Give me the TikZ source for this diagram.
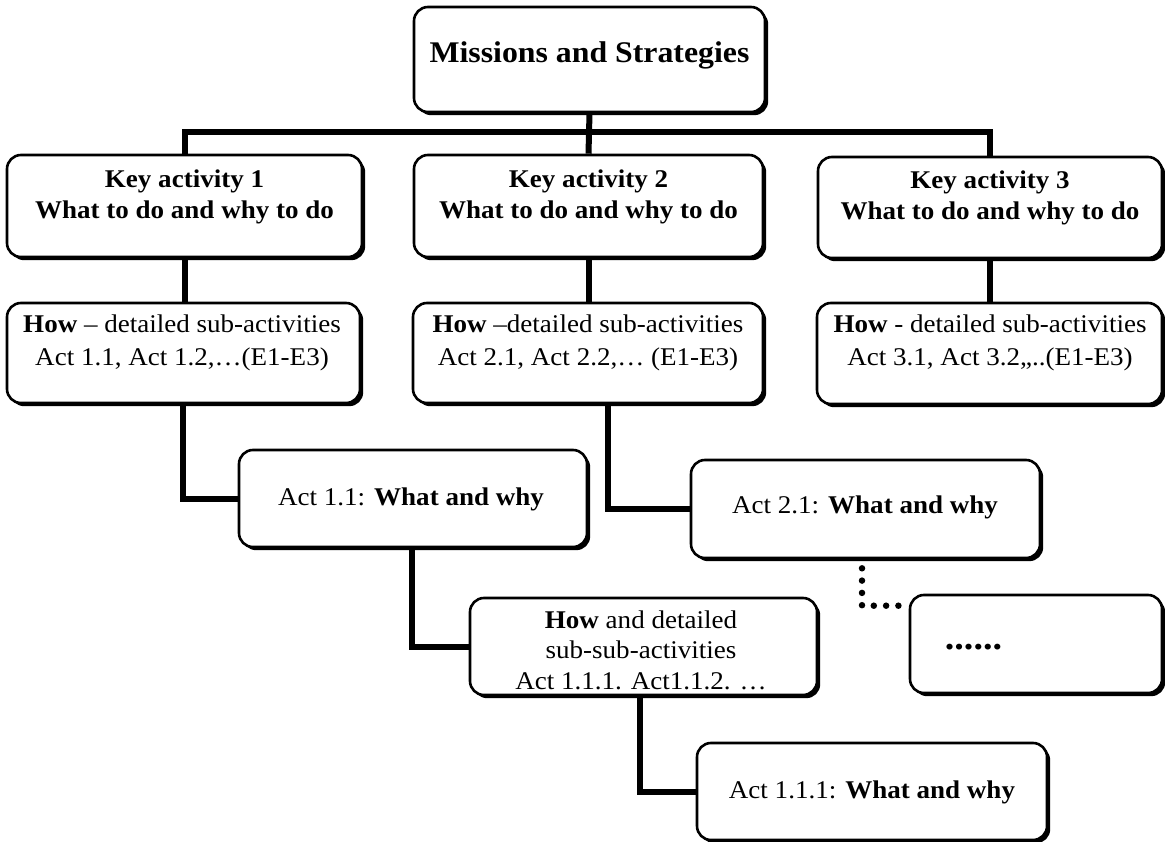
\documentclass[tikz,border=0pt]{standalone}
\usepackage{fontspec}
\setmainfont{Liberation Serif}[FakeStretch=1.06]
\usetikzlibrary{shadows,calc}

\tikzset{
  box/.style={draw, line width=2.6pt, rounded corners=14pt, fill=white, inner sep=0pt,
    drop shadow={shadow xshift=3.2pt, shadow yshift=-3.2pt, opacity=1, fill=black}},
  lbl/.style={align=center, inner sep=0pt, font=\fontsize{25.5}{31.5}\selectfont},
  toplbl/.style={inner sep=0pt, font=\fontsize{30}{36}\selectfont\bfseries},
  conn/.style={line width=6pt},
  dotconn/.style={line width=6.5pt, line cap=round, dash pattern=on 0pt off 12.3pt},
}

\begin{document}
\begin{tikzpicture}[x=1pt, y=-1pt]
\useasboundingbox (0,0) rectangle (1165,842);

% top level
\node[box, minimum width=351, minimum height=105] (M) at (589.5,59.5) {};
\node[toplbl] (Mt) at (589.5,55) {Missions and Strategies};

% key activities
\node[box, minimum width=355, minimum height=102] (K1) at (184.5,206) {};
\node[box, minimum width=349, minimum height=102] (K2) at (588.5,206) {};
\node[box, minimum width=344, minimum height=101] (K3) at (990,207.5) {};
\node[lbl, font=\fontsize{25.5}{31}\selectfont\bfseries] (K1t) at (184.5,197) {Key activity 1\\What to do and why to do};
\node[lbl, font=\fontsize{25.5}{31}\selectfont\bfseries] (K2t) at (588.5,197) {Key activity 2\\What to do and why to do};
\node[lbl, font=\fontsize{25.5}{31}\selectfont\bfseries] (K3t) at (990,198) {Key activity 3\\What to do and why to do};

% sub-activities
\node[box, minimum width=353, minimum height=100] (H1) at (183.5,353) {};
\node[box, minimum width=350, minimum height=100] (H2) at (588,353) {};
\node[box, minimum width=345, minimum height=101] (H3) at (989.5,353.5) {};
\node[lbl, font=\fontsize{25.5}{33}\selectfont] (H1t) at (182,343) {\textbf{How} – detailed sub-activities\\Act 1.1, Act 1.2,…(E1-E3)};
\node[lbl, font=\fontsize{25.5}{33}\selectfont] (H2t) at (588,343) {\textbf{How} –detailed sub-activities\\Act 2.1, Act 2.2,… (E1-E3)};
\node[lbl, font=\fontsize{25.5}{33}\selectfont] (H3t) at (990,343) {\textbf{How} - detailed sub-activities\\Act 3.1, Act 3.2,,..(E1-E3)};

% level three
\node[box, minimum width=348, minimum height=97] (A11) at (413,498.5) {};
\node[lbl] (A11t) at (411,499) {Act 1.1: \textbf{What and why}};
\node[box, minimum width=349, minimum height=98] (A21) at (865.5,509) {};
\node[lbl] (A21t) at (865,507) {Act 2.1: \textbf{What and why}};

\node[box, minimum width=347, minimum height=97] (HA) at (643.5,646.5) {};
\node[lbl, font=\fontsize{25.5}{30.5}\selectfont] (HAt) at (641,650) {\textbf{How} and detailed\\sub-sub-activities\\Act 1.1.1. Act1.1.2. …};
\node[box, minimum width=252, minimum height=98] (D) at (1036,644) {};
\node[lbl, font=\fontsize{36}{40}\selectfont\bfseries] (Dt) at (973.5,647) {......};

\node[box, minimum width=350, minimum height=97] (A111) at (872,791.5) {};
\node[lbl] (A111t) at (872,792) {Act 1.1.1: \textbf{What and why}};

% connectors
\coordinate (bar) at (588,132);
\draw[conn] (K1.north) |- (bar) -| (K3.north);
\draw[conn] (M.south) -- (K2.north);
\draw[conn] (K1.south) -- (K1.south |- H1.north);
\draw[conn] (K2.south) -- (K2.south |- H2.north);
\draw[conn] (K3.south) -- (K3.south |- H3.north);
\draw[conn] ([xshift=-0.5pt]H1.south) |- (A11.west);
\draw[conn] ([xshift=20pt]H2.south) |- (A21.west);
\draw[conn] ([xshift=-1pt]A11.south) |- (HA.west);
\draw[conn] ([xshift=-3.5pt]HA.south) |- (A111.west);
\coordinate (dotend) at ($(D.north west)+(0,12)$);
\draw[dotconn] ([xshift=-3.5pt,yshift=-9pt]A21.south) |- (dotend);
\end{tikzpicture}
\end{document}
